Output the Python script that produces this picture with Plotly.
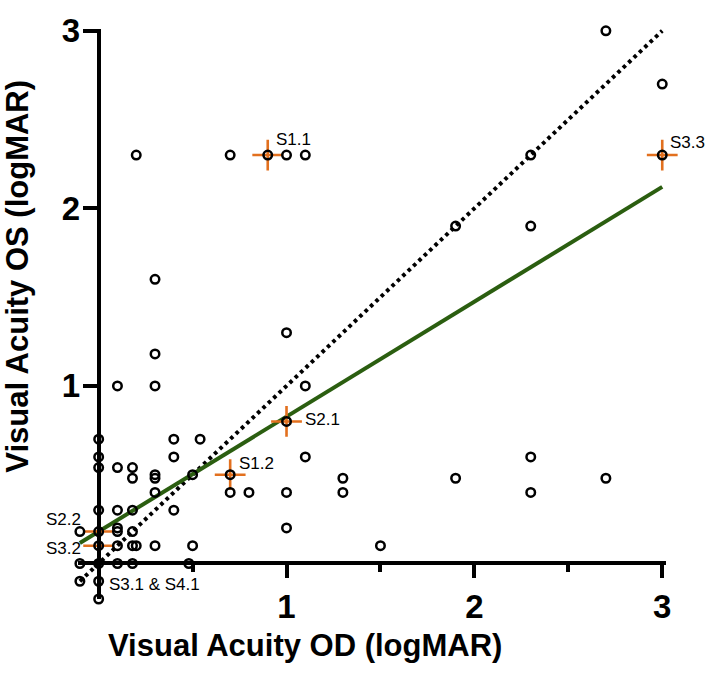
import plotly.graph_objects as go

# ---- data (logMAR) ----
va_od = [0, 0, 0, 0, 0, 0, 0, 0, 0,
         -0.1, -0.1, -0.1,
         0.1, 0.1, 0.1, 0.1, 0.1, 0.1, 0.1,
         0.18, 0.18, 0.18, 0.18, 0.18, 0.18,
         0.2, 0.2,
         0.3, 0.3, 0.3, 0.3, 0.3, 0.3, 0.3,
         0.4, 0.4, 0.4,
         0.48,
         0.5, 0.5,
         0.54,
         0.7, 0.7, 0.7,
         0.8,
         0.9,
         1.0, 1.0, 1.0, 1.0, 1.0,
         1.1, 1.1, 1.1,
         1.3, 1.3,
         1.5,
         1.9, 1.9,
         2.3, 2.3, 2.3, 2.3,
         2.7, 2.7,
         3.0, 3.0]
va_os = [0.7, 0.6, 0.54, 0.3, 0.18, 0.1, 0, -0.1, -0.2,
         0.18, 0, -0.1,
         1.0, 0.54, 0.3, 0.2, 0.18, 0.1, 0,
         0.54, 0.48, 0.3, 0.18, 0.1, 0,
         2.3, 0.1,
         1.6, 1.18, 1.0, 0.5, 0.48, 0.4, 0.1,
         0.7, 0.6, 0.3,
         0,
         0.5, 0.1,
         0.7,
         2.3, 0.5, 0.4,
         0.4,
         2.3,
         2.3, 1.3, 0.8, 0.4, 0.2,
         2.3, 1.0, 0.6,
         0.48, 0.4,
         0.1,
         1.9, 0.48,
         2.3, 1.9, 0.6, 0.4,
         3.0, 0.48,
         2.7, 2.3]

hl_labels = ["S1.1", "S1.2", "S2.1", "S2.2", "S3.2", "S3.3", "S3.1 & S4.1"]
hl_od = [0.9, 0.7, 1.0, 0.0, 0.0, 3.0, 0.0]
hl_os = [2.3, 0.5, 0.8, 0.18, 0.1, 2.3, 0.0]

fit_slope = 0.647
fit_intercept = 0.18

x_ticks = [1, 2, 3]
x_minor_ticks = [0.5, 1.5, 2.5]
y_ticks = [1, 2, 3]
x_title = "Visual Acuity OD (logMAR)"
y_title = "Visual Acuity OS (logMAR)"

# ---- styling / layout ----
FONT = "Liberation Sans, Arial, sans-serif"
ORANGE = "#e2701e"
label_pos = {  # (xanchor, xshift, yshift) in px
    "S1.1": ("left", 6, 16),
    "S1.2": ("left", 7, 11),
    "S2.1": ("left", 16, 2),
    "S2.2": ("right", -16, 12),
    "S3.2": ("right", -16, -3),
    "S3.3": ("left", 6, 13),
    "S3.1 & S4.1": ("left", 8, -21),
}

xr = [-0.11, 3.02]
yr = [-0.2, 3.01]

x_lo, x_hi = min(va_od), max(va_od)
line_x = [x_lo, x_hi]

fig = go.Figure()
fig.add_trace(go.Scatter(
    x=line_x, y=line_x, mode="lines",
    line=dict(color="black", width=4, dash="3.6px,3.8px"),
    hoverinfo="skip", cliponaxis=False))
fig.add_trace(go.Scatter(
    x=line_x, y=[fit_slope * v + fit_intercept for v in line_x], mode="lines",
    line=dict(color="#2b5e10", width=4),
    hoverinfo="skip", cliponaxis=False))
fig.add_trace(go.Scatter(
    x=hl_od, y=hl_os, mode="markers",
    marker=dict(symbol="cross-thin-open", size=22, color=ORANGE,
                line=dict(color=ORANGE, width=2.6)),
    cliponaxis=False))
fig.add_trace(go.Scatter(
    x=va_od, y=va_os, mode="markers",
    marker=dict(symbol="circle-open", size=8.5, color="black",
                line=dict(color="black", width=2.5)),
    cliponaxis=False))

for lab, xv, yv in zip(hl_labels, hl_od, hl_os):
    xa, xs, ys = label_pos[lab]
    fig.add_annotation(x=xv, y=yv, xref="x", yref="y", text=lab,
                       showarrow=False, xanchor=xa, yanchor="middle",
                       xshift=xs, yshift=ys,
                       font=dict(family=FONT, size=17, color="black"))

fig.add_annotation(x=0.386, y=-0.082, xref="paper", yref="paper",
                   text=x_title, showarrow=False,
                   xanchor="center", yanchor="middle",
                   font=dict(family=FONT, size=31, color="black", weight="bold"))
fig.add_annotation(x=-0.102, y=0.5656, xref="paper", yref="paper",
                   text=y_title, showarrow=False, textangle=-90,
                   xanchor="center", yanchor="middle",
                   font=dict(family=FONT, size=31, color="black", weight="bold"))

xpos = (0 - yr[0]) / (yr[1] - yr[0])
ypos = (0 - xr[0]) / (xr[1] - xr[0])

fig.update_layout(
    width=709, height=674,
    margin=dict(l=78, r=43, t=12, b=75),
    plot_bgcolor="white", paper_bgcolor="white",
    showlegend=False,
    xaxis=dict(range=xr, anchor="free", position=xpos,
               showline=True, linewidth=4, linecolor="black",
               ticks="outside", ticklen=13, tickwidth=4, tickcolor="black",
               tickmode="array", tickvals=x_ticks, ticklabeloverflow="allow",
               tickfont=dict(family=FONT, size=33, color="black", weight="bold"),
               showgrid=False, zeroline=False,
               minor=dict(tickmode="array", tickvals=x_minor_ticks, ticks="outside",
                          ticklen=7, tickwidth=4, tickcolor="black", showgrid=False)),
    yaxis=dict(range=yr, anchor="free", position=ypos,
               showline=True, linewidth=4, linecolor="black",
               ticks="outside", ticklen=14, tickwidth=4, tickcolor="black",
               tickmode="array", tickvals=y_ticks, ticklabeloverflow="allow",
               ticklabelstandoff=-4,
               tickfont=dict(family=FONT, size=33, color="black", weight="bold"),
               showgrid=False, zeroline=False),
)

fig.write_html("out.html",
               config={"displayModeBar": False},
               post_script="document.body.style.margin='0';"
                           "document.body.style.overflow='hidden';")
